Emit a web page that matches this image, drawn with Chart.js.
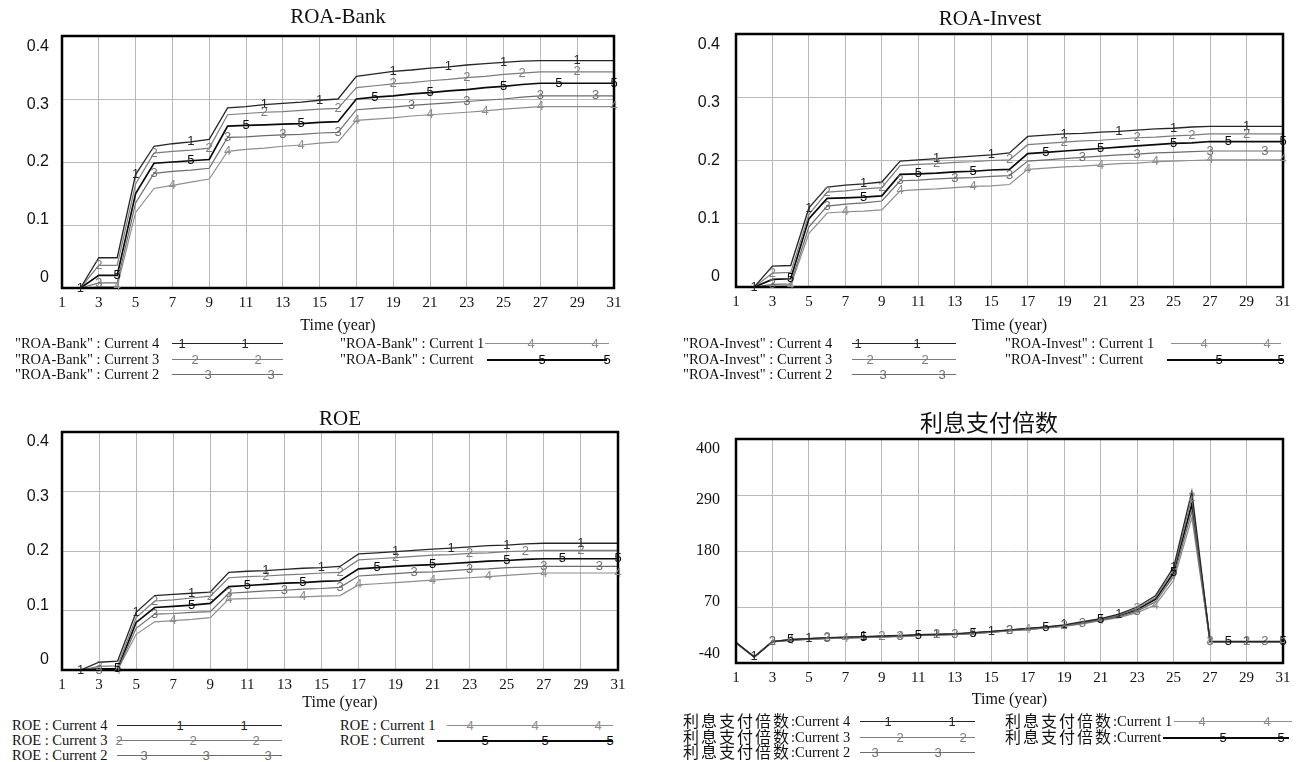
<!DOCTYPE html>
<html>
<head>
<meta charset="utf-8">
<title>ROA-Bank / ROA-Invest / ROE / 利息支付倍数</title>
<script src="https://cdn.jsdelivr.net/npm/chart.js@4.4.1/dist/chart.umd.min.js"></script>
<style>
  body { margin: 0; background: #fff; }
  #page { position: relative; width: 1301px; height: 762px; overflow: hidden; background: #fff; }
  #page canvas { position: absolute; }
  .lg-text { position: absolute; font: 14.5px "Liberation Serif", serif; color: #111; white-space: nowrap; line-height: 20px; height: 20px; }
  .lg-text .cjk { font-family: "Noto Sans CJK SC", sans-serif; font-size: 16px; letter-spacing: 2px; line-height: 16px; display: inline-block; vertical-align: -1px; }
  .lg-line { position: absolute; height: 0; border-top: 1px solid #000; }
  .lg-mark { position: absolute; font: 13px "Liberation Sans", sans-serif; line-height: 13px; transform: translate(-50%, -52%); }
</style>
</head>
<body>
<div id="page">
  <canvas id="roaBank" width="650" height="340" style="left:0;top:0"></canvas>
  <canvas id="roaInvest" width="650" height="340" style="left:651px;top:0"></canvas>
  <canvas id="roe" width="650" height="310" style="left:0;top:404px"></canvas>
  <canvas id="interest" width="650" height="310" style="left:651px;top:400px"></canvas>
</div>
<script>
// time axis (year)
const years = [1, 2, 3, 4, 5, 6, 7, 8, 9, 10, 11, 12, 13, 14, 15, 16, 17, 18, 19, 20, 21, 22, 23, 24, 25, 26, 27, 28, 29, 30, 31];
const seriesNames = ["Current 4", "Current 3", "Current 2", "Current 1", "Current"];

// ROA-Bank
const roaBankCurrent4 = [0, 0, 0.048, 0.048, 0.18, 0.225, 0.229, 0.232, 0.236, 0.286, 0.288, 0.291, 0.293, 0.295, 0.298, 0.3, 0.336, 0.34, 0.344, 0.346, 0.349, 0.351, 0.354, 0.356, 0.358, 0.36, 0.361, 0.361, 0.361, 0.361, 0.361];
const roaBankCurrent3 = [0, 0, 0.036, 0.036, 0.165, 0.214, 0.217, 0.219, 0.222, 0.275, 0.277, 0.279, 0.28, 0.282, 0.284, 0.285, 0.318, 0.321, 0.324, 0.326, 0.329, 0.331, 0.334, 0.336, 0.339, 0.341, 0.343, 0.343, 0.343, 0.343, 0.343];
const roaBankCurrent2 = [0, 0, 0.008, 0.008, 0.135, 0.182, 0.185, 0.187, 0.19, 0.239, 0.24, 0.242, 0.243, 0.244, 0.246, 0.247, 0.283, 0.285, 0.287, 0.29, 0.292, 0.294, 0.296, 0.298, 0.3, 0.303, 0.305, 0.305, 0.305, 0.305, 0.305];
const roaBankCurrent1 = [0, 0, 0.002, 0.002, 0.12, 0.158, 0.163, 0.168, 0.173, 0.217, 0.22, 0.222, 0.225, 0.227, 0.23, 0.232, 0.266, 0.268, 0.27, 0.273, 0.275, 0.277, 0.279, 0.281, 0.284, 0.286, 0.288, 0.288, 0.288, 0.288, 0.288];
const roaBankCurrent = [0, 0, 0.02, 0.02, 0.15, 0.198, 0.2, 0.202, 0.204, 0.257, 0.258, 0.259, 0.26, 0.261, 0.263, 0.264, 0.3, 0.303, 0.305, 0.308, 0.31, 0.313, 0.315, 0.318, 0.32, 0.323, 0.325, 0.325, 0.325, 0.325, 0.325];

// ROA-Invest
const roaInvestCurrent4 = [0, 0, 0.033, 0.034, 0.125, 0.158, 0.161, 0.163, 0.166, 0.199, 0.201, 0.203, 0.205, 0.207, 0.209, 0.212, 0.238, 0.24, 0.242, 0.243, 0.245, 0.246, 0.248, 0.25, 0.251, 0.253, 0.254, 0.254, 0.254, 0.254, 0.254];
const roaInvestCurrent3 = [0, 0, 0.022, 0.023, 0.115, 0.15, 0.152, 0.155, 0.157, 0.192, 0.194, 0.195, 0.197, 0.198, 0.2, 0.201, 0.225, 0.227, 0.229, 0.231, 0.232, 0.234, 0.236, 0.237, 0.239, 0.24, 0.242, 0.242, 0.242, 0.242, 0.242];
const roaInvestCurrent2 = [0, 0, 0.004, 0.005, 0.095, 0.128, 0.131, 0.133, 0.136, 0.168, 0.169, 0.171, 0.172, 0.173, 0.175, 0.176, 0.199, 0.201, 0.203, 0.205, 0.207, 0.209, 0.21, 0.212, 0.213, 0.214, 0.215, 0.215, 0.215, 0.215, 0.215];
const roaInvestCurrent1 = [0, 0, 0.001, 0.002, 0.085, 0.117, 0.119, 0.12, 0.122, 0.152, 0.154, 0.155, 0.157, 0.159, 0.16, 0.162, 0.186, 0.188, 0.19, 0.191, 0.193, 0.195, 0.196, 0.198, 0.199, 0.2, 0.201, 0.201, 0.201, 0.201, 0.201];
const roaInvestCurrent = [0, 0, 0.012, 0.013, 0.108, 0.14, 0.141, 0.142, 0.144, 0.178, 0.179, 0.18, 0.182, 0.183, 0.185, 0.186, 0.211, 0.213, 0.215, 0.217, 0.219, 0.221, 0.223, 0.225, 0.227, 0.228, 0.23, 0.23, 0.23, 0.23, 0.23];

// ROE
const roeCurrent4 = [0, 0, 0.013, 0.015, 0.097, 0.125, 0.127, 0.129, 0.131, 0.164, 0.166, 0.167, 0.169, 0.171, 0.172, 0.174, 0.195, 0.197, 0.199, 0.201, 0.203, 0.205, 0.207, 0.209, 0.21, 0.212, 0.213, 0.213, 0.213, 0.213, 0.213];
const roeCurrent3 = [0, 0, 0.006, 0.007, 0.088, 0.116, 0.118, 0.121, 0.124, 0.155, 0.157, 0.158, 0.16, 0.161, 0.163, 0.164, 0.185, 0.187, 0.189, 0.191, 0.193, 0.194, 0.196, 0.197, 0.199, 0.2, 0.201, 0.201, 0.201, 0.201, 0.201];
const roeCurrent2 = [0, 0, 0, 0, 0.07, 0.094, 0.095, 0.097, 0.098, 0.129, 0.131, 0.133, 0.134, 0.136, 0.137, 0.139, 0.158, 0.16, 0.162, 0.164, 0.165, 0.167, 0.169, 0.17, 0.172, 0.173, 0.174, 0.174, 0.174, 0.174, 0.174];
const roeCurrent1 = [0, 0, 0, 0, 0.06, 0.081, 0.083, 0.085, 0.088, 0.119, 0.12, 0.121, 0.122, 0.123, 0.124, 0.125, 0.143, 0.145, 0.147, 0.149, 0.151, 0.153, 0.155, 0.157, 0.159, 0.161, 0.163, 0.163, 0.163, 0.163, 0.163];
const roeCurrent = [0, 0, 0.002, 0.002, 0.08, 0.105, 0.107, 0.109, 0.112, 0.14, 0.142, 0.144, 0.146, 0.147, 0.149, 0.15, 0.17, 0.172, 0.174, 0.176, 0.177, 0.179, 0.181, 0.183, 0.184, 0.186, 0.187, 0.187, 0.187, 0.187, 0.187];

// 利息支付倍数
const interestCurrent4 = [0, -28, 2, 6, 8, 10, 11, 12, 13, 14, 15.5, 16.5, 17.5, 19.5, 22, 25, 28, 31, 35, 41, 47, 56, 70, 92, 148, 297, 2, 2, 2, 2, 2];
const interestCurrent3 = [0, -28, 2, 6, 8, 9.5, 10.5, 11.5, 12.5, 13.5, 15, 16, 17, 19, 21.5, 24.5, 27.5, 30.5, 34, 40, 46, 54, 67, 88, 142, 285, 2, 2, 2, 2, 2];
const interestCurrent2 = [0, -28, 2, 5, 7, 8.5, 9.5, 10.5, 11.5, 12.5, 14, 15, 16, 18, 20.5, 23.5, 26, 29, 33, 38, 44, 51, 62, 80, 130, 258, 2, 2, 2, 2, 2];
const interestCurrent1 = [0, -28, 2, 4.5, 6.5, 8, 9, 10, 11, 12, 13.5, 14.5, 15.5, 17.5, 20, 23, 25.5, 28.5, 32, 37, 43, 49, 59, 74, 122, 245, 2, 2, 2, 2, 2];
const interestCurrent = [0, -28, 2, 5.5, 7.5, 9, 10, 11, 12, 13, 14.5, 15.5, 16.5, 18.5, 21, 24, 27, 30, 33.5, 39, 45, 52, 65, 85, 137, 272, 2, 2, 2, 2, 2];

// where the run numbers sit along each line (years)
const markerYears = [
  [2, 5, 8, 12, 15, 19, 22, 25, 29],
  [3, 6, 9, 12, 16, 19, 23, 26, 29],
  [3, 6, 10, 13, 16, 20, 23, 27, 30],
  [4, 7, 10, 14, 17, 21, 24, 27, 31],
  [4, 8, 11, 14, 18, 21, 25, 28, 31],
];
const lineColors = ["#262626", "#7c7c7c", "#6c6c6c", "#8e8e8e", "#0a0a0a"];
const lineWidths = [1.3, 1.2, 1.2, 1.2, 1.7];
const gridColor = "#b9b9b9";
const textColor = "#111";

// draws the black frame and the run numbers on top of the lines
const frameAndMarkers = {
  id: "frameAndMarkers",
  afterDatasetsDraw(chart) {
    const { ctx, chartArea: a, scales } = chart;
    ctx.save();
    ctx.strokeStyle = "#000";
    ctx.lineWidth = 2.5;
    ctx.strokeRect(a.left, a.top, a.right - a.left, a.bottom - a.top);
    ctx.font = "13px 'Liberation Sans', sans-serif";
    ctx.textAlign = "center";
    ctx.textBaseline = "middle";
    chart.data.datasets.forEach((ds, i) => {
      ctx.fillStyle = lineColors[i];
      markerYears[i].forEach((t) => {
        const pt = ds.data[years.indexOf(t)];
        ctx.fillText(String(i + 1), scales.x.getPixelForValue(pt.x), scales.y.getPixelForValue(pt.y));
      });
    });
    ctx.restore();
  },
};

const serif = "'Liberation Serif', 'Times New Roman', serif";
const sans = "'Liberation Sans', Arial, sans-serif";

const panels = [
  {
    id: "roaBank", name: '"ROA-Bank"', sep: " : ", title: "ROA-Bank",
    titleFont: { family: serif, size: 21 }, titlePad: { top: 4.4, bottom: 6.4 }, titleFull: false,
    series: [roaBankCurrent4, roaBankCurrent3, roaBankCurrent2, roaBankCurrent1, roaBankCurrent],
    yMin: 0, yMax: 0.4, yStep: 0.1, yFont: { family: sans, size: 16 },
    padLeft: 0, labelWidth: 62, labelPad: 13, padRight: 36, xHeight: 52, xTitlePad: 4.4,
    legend: [
      { x: 15, y: 343, line: [172, 283], marks: [182, 245] },
      { x: 15, y: 359, line: [172, 283], marks: [195, 258] },
      { x: 15, y: 374, line: [172, 283], marks: [208, 271] },
      { x: 340, y: 343, line: [485, 609], marks: [531, 595] },
      { x: 340, y: 359, line: [487, 607], marks: [542, 607] },
    ],
  },
  {
    id: "roaInvest", name: '"ROA-Invest"', sep: " : ", title: "ROA-Invest",
    titleFont: { family: serif, size: 21 }, titlePad: { top: 6.8, bottom: 2 }, titleFull: true,
    series: [roaInvestCurrent4, roaInvestCurrent3, roaInvestCurrent2, roaInvestCurrent1, roaInvestCurrent],
    yMin: 0, yMax: 0.4, yStep: 0.1, yFont: { family: sans, size: 16 },
    padLeft: 46, labelWidth: 39, labelPad: 16, padRight: 18, xHeight: 53, xTitlePad: 4.4,
    legend: [
      { x: 683, y: 343, line: [852, 956], marks: [858, 917] },
      { x: 683, y: 359, line: [852, 956], marks: [870, 925] },
      { x: 683, y: 374, line: [852, 956], marks: [883, 942] },
      { x: 1005, y: 343, line: [1171, 1281], marks: [1204, 1267] },
      { x: 1005, y: 359, line: [1167, 1283], marks: [1219, 1281] },
    ],
  },
  {
    id: "roe", name: "ROE", sep: " : ", title: "ROE",
    titleFont: { family: serif, size: 21 }, titlePad: { top: 2.4, bottom: 0.4 }, titleFull: false,
    series: [roeCurrent4, roeCurrent3, roeCurrent2, roeCurrent1, roeCurrent],
    yMin: 0, yMax: 0.4, yStep: 0.1, yFont: { family: sans, size: 16 },
    padLeft: 0, labelWidth: 62, labelPad: 13, padRight: 32, xHeight: 44, xTitlePad: 1.4,
    legend: [
      { x: 12, y: 725, line: [117, 282], marks: [180, 244] },
      { x: 12, y: 740, line: [117, 282], marks: [119, 193, 256] },
      { x: 12, y: 755, line: [117, 282], marks: [144, 206, 268] },
      { x: 340, y: 725, line: [447, 613], marks: [470, 535, 598] },
      { x: 340, y: 740, line: [437, 613], marks: [485, 545, 610] },
    ],
  },
  {
    id: "interest", name: "利息支付倍数", sep: ":", title: "利息支付倍数", cjk: true,
    titleFont: { family: "'Noto Sans CJK SC', sans-serif", size: 23 }, titlePad: { top: 8.4, bottom: 3 }, titleFull: true,
    series: [interestCurrent4, interestCurrent3, interestCurrent2, interestCurrent1, interestCurrent],
    yMin: -40, yMax: 400, yStep: 110, yFont: { family: serif, size: 16 },
    padLeft: 44, labelWidth: 41, labelPad: 16, padRight: 18, xHeight: 47, xTitlePad: 0.4,
    legend: [
      { x: 683, y: 721, line: [860, 975], marks: [888, 952] },
      { x: 683, y: 737, line: [860, 975], marks: [900, 963] },
      { x: 683, y: 752, line: [860, 975], marks: [875, 938] },
      { x: 1005, y: 721, line: [1174, 1292], marks: [1202, 1267] },
      { x: 1005, y: 737, line: [1163, 1289], marks: [1223, 1281] },
    ],
  },
];

function makeChart(p) {
  const steps = Math.round((p.yMax - p.yMin) / p.yStep);
  // tick labels sit a little inside the frame, as in the original plot
  const inset = 0.042 * steps / (1 - 2 * 0.042);
  return new Chart(document.getElementById(p.id), {
    type: "line",
    data: {
      datasets: p.series.map((values, i) => ({
        label: p.name + p.sep + seriesNames[i],
        data: values.map((v, k) => ({ x: years[k], y: v })),
        yAxisID: "y",
        borderColor: lineColors[i],
        borderWidth: lineWidths[i],
        pointRadius: 0,
        tension: 0,
        fill: false,
      })),
    },
    options: {
      responsive: false,
      animation: false,
      devicePixelRatio: 1,
      layout: { padding: { left: p.padLeft, right: p.padRight, top: 0, bottom: 0 } },
      plugins: {
        legend: { display: false },
        tooltip: { enabled: false },
        title: {
          display: true,
          text: p.title,
          color: textColor,
          fullSize: p.titleFull,
          font: { ...p.titleFont, weight: "normal" },
          padding: p.titlePad,
        },
      },
      scales: {
        x: {
          type: "linear",
          min: 1,
          max: 31,
          ticks: { stepSize: 2, padding: 6, color: textColor, font: { family: serif, size: 15 }, maxRotation: 0, autoSkip: false },
          grid: { color: gridColor, drawTicks: false },
          border: { display: false },
          title: { display: true, text: "Time (year)", color: textColor, font: { family: serif, size: 16 }, padding: { top: 0, bottom: p.xTitlePad } },
          afterFit: (s) => { s.height = p.xHeight; },
        },
        y: {
          min: p.yMin,
          max: p.yMax,
          ticks: { display: false, stepSize: p.yStep },
          grid: { color: gridColor, drawTicks: false },
          border: { display: false },
          afterFit: (s) => { s.width = 0; },
        },
        yLabels: {
          axis: "y",
          position: "left",
          min: -inset,
          max: steps + inset,
          ticks: {
            stepSize: 1,
            includeBounds: false,
            padding: p.labelPad,
            color: textColor,
            font: p.yFont,
            callback: (v) => String(Math.round((p.yMin + v * p.yStep) * 1000) / 1000),
          },
          grid: { display: false, drawTicks: false },
          border: { display: false },
          afterFit: (s) => { s.width = p.labelWidth; },
        },
      },
    },
    plugins: [frameAndMarkers],
  });
}

function addLegend(p) {
  const page = document.getElementById("page");
  p.legend.forEach((e, i) => {
    const text = document.createElement("div");
    text.className = "lg-text";
    text.style.left = e.x + "px";
    text.style.top = e.y - 10 + "px";
    if (p.cjk) {
      const name = document.createElement("span");
      name.className = "cjk";
      name.textContent = p.name;
      text.appendChild(name);
      text.appendChild(document.createTextNode(p.sep + seriesNames[i]));
    } else {
      text.textContent = p.name + p.sep + seriesNames[i];
    }
    page.appendChild(text);

    const line = document.createElement("div");
    line.className = "lg-line";
    line.style.left = e.line[0] + "px";
    line.style.top = e.y + "px";
    line.style.width = e.line[1] - e.line[0] + "px";
    line.style.borderTopColor = lineColors[i];
    line.style.borderTopWidth = (i === 4 ? 2 : 1) + "px";
    page.appendChild(line);

    e.marks.forEach((mx) => {
      const mark = document.createElement("span");
      mark.className = "lg-mark";
      mark.style.left = mx + "px";
      mark.style.top = e.y + 1 + "px";
      mark.style.color = lineColors[i];
      mark.textContent = String(i + 1);
      page.appendChild(mark);
    });
  });
}

const charts = panels.map((p) => {
  addLegend(p);
  return makeChart(p);
});
</script>
</body>
</html>
